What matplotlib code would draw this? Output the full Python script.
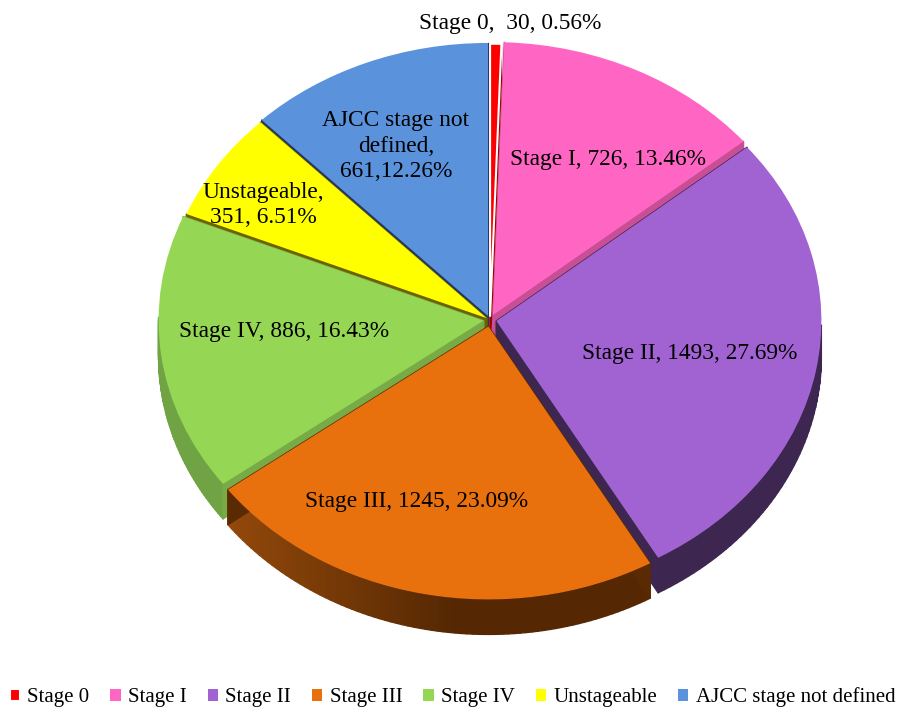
import numpy as np
import matplotlib
matplotlib.use('Agg')
import matplotlib.pyplot as plt
from matplotlib.collections import PolyCollection
from matplotlib.colors import to_rgb
from matplotlib.transforms import Affine2D

# Chart data
stages = ['Stage 0', 'Stage I', 'Stage II', 'Stage III', 'Stage IV', 'Unstageable', 'AJCC stage not defined']
counts = [30, 726, 1493, 1245, 886, 351, 661]
labels = ['Stage 0,  30, 0.56%', 'Stage I, 726, 13.46%', 'Stage II, 1493, 27.69%',
          'Stage III, 1245, 23.09%', 'Stage IV, 886, 16.43%', 'Unstageable,\n351, 6.51%',
          'AJCC stage not\ndefined,\n661,12.26%']
colors = ['#ff0000', '#ff66c4', '#a163d2', '#e8710e', '#95d755', '#ffff00', '#5b92dc']
wall_colors = ['#a00000', '#c84f96', '#3d2650', '#5a2a03', '#78ab46', '#6e6200', '#1f3864']
rim_left = ['#a00000', '#c84f96', '#3d2650', '#94490a', '#6fa344', '#6e6200', '#1f3864']
rim_right = ['#a00000', '#c84f96', '#3d2650', '#552803', '#5f8f38', '#6e6200', '#1f3864']
explode = [0.012, 0.02, 0.02, 0.024, 0.02, 0.012, 0.016]

# back to front drawing order
draw_order = [6, 1, 0, 5, 4, 2, 3]

cx, cy = 490, 707 - 320
rx, ry = 325, 273
depth = 35

fig = plt.figure(figsize=(8.99, 7.07), dpi=100)
ax = fig.add_axes([0, 0, 1, 1])
plt.rcParams['font.family'] = ['Liberation Serif', 'DejaVu Serif']

wedges, _ = ax.pie(counts, explode=explode, startangle=90, counterclock=False, colors=colors,
                   wedgeprops={'linewidth': 0})
ax.set_aspect('auto')
ax.set_xlim(0, 899)
ax.set_ylim(0, 707)
ax.axis('off')

# only the thin Stage 0 slice keeps a white outline
wedges[0].set_edgecolor('white')
wedges[0].set_linewidth(1.5)

# squash the flat pie so it looks tilted
pie_tf = Affine2D().scale(rx, ry).translate(cx, cy) + ax.transData
for z, i in enumerate(draw_order):
    wedges[i].set_transform(pie_tf)
    wedges[i].set_zorder(2 * z + 2)

# side walls and rim of every slice, hanging below the top face
frac = np.array(counts) / sum(counts)
edges = np.concatenate([[0], np.cumsum(frac)]) * 2 * np.pi
for z, i in enumerate(draw_order):
    mid = (edges[i] + edges[i + 1]) / 2
    off_x = rx * explode[i] * np.sin(mid)
    off_y = ry * explode[i] * np.cos(mid)
    theta = np.linspace(edges[i], edges[i + 1], 80)
    xs = cx + off_x + rx * np.sin(theta)
    ys = cy + off_y + ry * np.cos(theta)
    apex = (cx + off_x, cy + off_y)

    quads = []
    face = []
    left, right = np.array(to_rgb(rim_left[i])), np.array(to_rgb(rim_right[i]))
    for k in range(len(xs) - 1):
        # the back half of the rim is hidden behind the top face
        if np.cos(theta[k]) > 0:
            continue
        quads.append([(xs[k], ys[k]), (xs[k + 1], ys[k + 1]),
                      (xs[k + 1], ys[k + 1] - depth), (xs[k], ys[k] - depth)])
        t = np.clip((xs[k] - 225) / 230, 0, 1)
        face.append(left + (right - left) * t)
    for end_x, end_y in [(xs[0], ys[0]), (xs[-1], ys[-1])]:
        quads.append([apex, (end_x, end_y), (end_x, end_y - depth), (apex[0], apex[1] - depth)])
        face.append(to_rgb(wall_colors[i]))
    ax.add_collection(PolyCollection(quads, facecolors=face, edgecolors=face, linewidths=1.0,
                                     zorder=2 * z + 1))

# data labels
label_pos = [(510, 24), (608, 159), (690, 354), (417, 501), (284, 331), (263, 205), (396, 146)]
for text, (x, y) in zip(labels, label_pos):
    ax.text(x, 707 - y, text, ha='center', va='center', fontsize=16.8, color='black',
            linespacing=1.3, zorder=30)

leg = ax.legend(wedges, stages, loc='lower left', bbox_to_anchor=(0.006, -0.006), ncol=7, frameon=False,
                fontsize=15, handlelength=0.5, handleheight=0.5, handletextpad=0.36,
                columnspacing=0.99, borderaxespad=0.0, borderpad=0.2)
leg.set_zorder(30)

plt.savefig('out.png', dpi=100)
